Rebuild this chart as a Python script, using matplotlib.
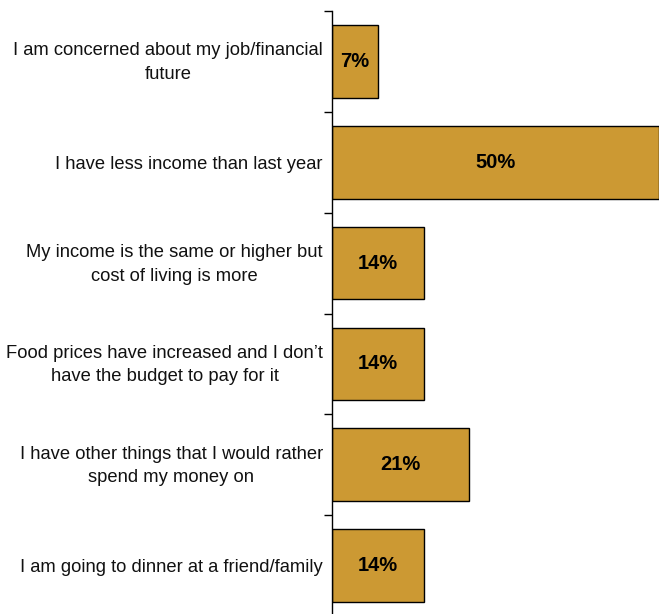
import matplotlib.pyplot as plt
import matplotlib.transforms as mtransforms
import numpy as np

plt.rcParams['font.family'] = ['Liberation Sans', 'DejaVu Sans']

reasons = [
    "I am concerned about my job/financial\nfuture",
    "I have less income than last year",
    "My income is the same or higher but\ncost of living is more",
    "Food prices have increased and I don\u2019t\nhave the budget to pay for it",
    "I have other things that I would rather\nspend my money on",
    "I am going to dinner at a friend/family",
]
shares = [7, 50, 14, 14, 21, 14]

bar_color = "#CC9933"

fig = plt.figure(figsize=(6.59, 6.14), dpi=100)
ax = fig.add_axes([332 / 659, -2 / 614, 1 - 332 / 659, 605 / 614])

y = np.arange(len(reasons))
ax.barh(y, shares, height=0.72, color=bar_color, edgecolor="black", linewidth=1.0)

for yi, v in zip(y, shares):
    ax.text(v / 2, yi, f"{v}%", ha="center", va="center",
            fontsize=14.5, fontweight="bold", color="black")

ax.set_xlim(0, 50)
ax.set_ylim(len(reasons) - 0.5, -0.5)

ax.set_yticks(y)
ax.set_yticklabels(reasons, fontsize=13.2, multialignment="center",
                   linespacing=1.5, color="#111111")
ax.tick_params(axis="y", which="major", length=0, pad=6.5)
ax.set_yticks(np.arange(-0.5, len(reasons)), minor=True)
ax.tick_params(axis="y", which="minor", length=6, width=1)
ax.set_xticks([])

# nudge two-line labels up a little
lift = mtransforms.ScaledTranslation(0, 4 / 100, fig.dpi_scale_trans)
for lab in ax.get_yticklabels():
    if "\n" in lab.get_text():
        lab.set_transform(lab.get_transform() + lift)

for side in ["top", "right", "bottom"]:
    ax.spines[side].set_visible(False)
ax.spines["left"].set_linewidth(1.0)

fig.savefig("out.png", dpi=100)
